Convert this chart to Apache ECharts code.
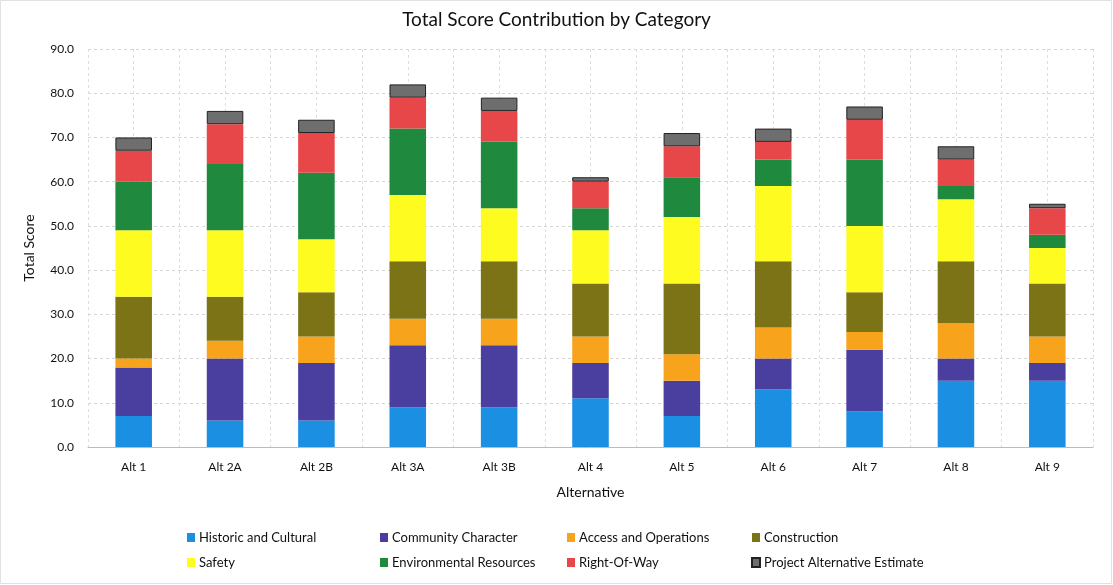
<!DOCTYPE html>
<html>
<head>
<meta charset="utf-8">
<script src="https://cdn.jsdelivr.net/npm/echarts@6/dist/echarts.min.js"></script>
<style>
  html, body { margin: 0; padding: 0; background: #fff; }
  #chart { width: 1113px; height: 585px; }
</style>
</head>
<body>
<div id="chart"></div>
<script>
var alternatives = ['Alt 1', 'Alt 2A', 'Alt 2B', 'Alt 3A', 'Alt 3B', 'Alt 4', 'Alt 5', 'Alt 6', 'Alt 7', 'Alt 8', 'Alt 9'];
var categoryNames = ['Historic and Cultural', 'Community Character', 'Access and Operations', 'Construction',
	'Safety', 'Environmental Resources', 'Right-Of-Way', 'Project Alternative Estimate'];

var historic      = [7, 6, 6, 9, 9, 11, 7, 13, 8, 15, 15];
var community     = [11, 14, 13, 14, 14, 8, 8, 7, 14, 5, 4];
var access        = [2, 4, 6, 6, 6, 6, 6, 7, 4, 8, 6];
var construction  = [14, 10, 10, 13, 13, 12, 16, 15, 9, 14, 12];
var safety        = [15, 15, 12, 15, 12, 12, 15, 17, 15, 14, 8];
var environmental = [11, 15, 15, 15, 15, 5, 9, 6, 15, 3, 3];
var rightOfWay    = [7, 9, 9, 7, 7, 6, 7, 4, 9, 6, 6];
var estimate      = [3, 3, 3, 3, 3, 1, 3, 3, 3, 3, 1];

var yTicks = [0, 10, 20, 30, 40, 50, 60, 70, 80, 90];

var seriesValues = [historic, community, access, construction, safety, environmental, rightOfWay, estimate];
var colors = ['#1b8fe2', '#4a3e9e', '#f8a31c', '#7b7315', '#fdfb1f', '#1f8a3d', '#e8474a', '#6e6e6e'];

var myChart = echarts.init(document.getElementById('chart'));

var series = seriesValues.map(function (vals, i) {
	return {
		name: categoryNames[i],
		type: 'bar',
		stack: 'total',
		barWidth: '40%',
		itemStyle: {
			color: colors[i],
			borderColor: i === 7 ? '#222' : null,
			borderWidth: i === 7 ? 1 : 0
		},
		data: vals
	};
});

// legend laid out as 4 columns of 2 rows
var colLeft = [182, 375, 562, 746];
var legends = colLeft.map(function (x, c) {
	return {
		orient: 'vertical',
		left: x,
		top: 526,
		itemGap: 13,
		itemWidth: 8,
		itemHeight: 9,
		itemGap: 12,
		icon: 'rect',
		textStyle: { fontFamily: 'Lato', fontSize: 13, color: '#111', padding: [0, 0, 0, -1] },
		data: [categoryNames[c], categoryNames[c + 4]]
	};
});

option = {
	animation: false,
	backgroundColor: '#fff',
	title: {
		text: 'Total Score Contribution by Category',
		left: 'center',
		top: 5,
		textStyle: { fontFamily: 'Lato', fontSize: 19, fontWeight: 'normal', color: '#111' }
	},
	legend: legends,
	graphic: [{
		type: 'rect',
		shape: { x: 0.5, y: 0.5, width: 1111, height: 583 },
		style: { fill: null, stroke: '#e2e2e2', lineWidth: 1 },
		silent: true
	}],
	grid: { left: 88, right: 20, top: 49, bottom: 138 },
	xAxis: [{
		type: 'category',
		data: alternatives,
		name: 'Alternative',
		nameLocation: 'middle',
		nameGap: 38,
		nameTextStyle: { fontFamily: 'Lato', fontSize: 14, color: '#111' },
		axisLine: { lineStyle: { color: '#bbb' } },
		axisTick: { show: false },
		axisLabel: { fontFamily: 'Lato', fontSize: 12, color: '#111', margin: 14 },
		splitLine: { show: true, lineStyle: { color: '#dedede', type: [3, 3] } }
	}, {
		type: 'value',
		min: 0,
		max: 22,
		interval: 1,
		show: true,
		axisLine: { show: false },
		axisTick: { show: false },
		axisLabel: { show: false },
		splitLine: { show: true, lineStyle: { color: '#dedede', type: [3, 3] } }
	}],
	yAxis: {
		type: 'value',
		min: yTicks[0],
		max: yTicks[yTicks.length - 1],
		interval: 10,
		name: 'Total Score',
		nameLocation: 'middle',
		nameGap: 52,
		nameTextStyle: { fontFamily: 'Lato', fontSize: 14, color: '#111' },
		axisLine: { show: false },
		axisTick: { show: false },
		axisLabel: {
			fontFamily: 'Lato', fontSize: 12, color: '#111', margin: 14,
			formatter: function (v) { return v.toFixed(1); }
		},
		splitLine: { lineStyle: { color: '#d4d4d4', type: [3, 3] } }
	},
	series: series
};

myChart.setOption(option);
</script>
</body>
</html>
